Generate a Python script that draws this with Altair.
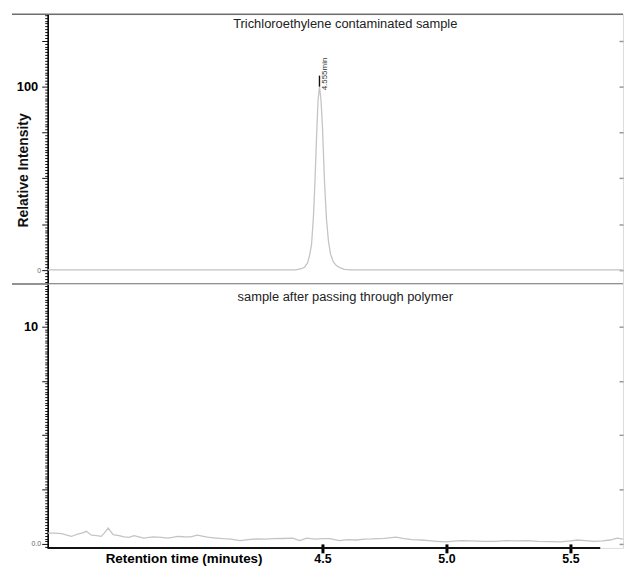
import altair as alt
import pandas as pd

# ---------------- data ----------------
top_title = ["Trichloroethylene contaminated sample"]
bottom_title = ["sample after passing through polymer"]
peak_label = ["4.555min"]
peak_time = [4.488]

top_time = [3.392, 3.60, 3.80, 4.00, 4.20, 4.35, 4.392, 4.416, 4.428, 4.44, 4.448,
            4.456, 4.464, 4.47, 4.476, 4.482, 4.488, 4.494, 4.50, 4.508, 4.516,
            4.524, 4.532, 4.544, 4.556, 4.568, 4.588, 4.616, 4.70, 4.90, 5.10,
            5.30, 5.50, 5.712]
top_val = [0.1, 0.1, 0.1, 0.1, 0.1, 0.1, 0.2, 0.8, 1.6, 4.0, 8.0,
           14.0, 30.0, 49.0, 72.0, 92.0, 100.0, 93.0, 78.0, 49.0, 28.0,
           16.0, 9.0, 4.5, 2.5, 1.5, 0.4, 0.1, 0.1, 0.1, 0.1,
           0.1, 0.1, 0.1]

bot_time = [3.392, 3.42, 3.448, 3.47, 3.488, 3.50, 3.516, 3.53, 3.548, 3.568,
            3.59, 3.608, 3.62, 3.636, 3.656, 3.68, 3.70, 3.72, 3.74, 3.76,
            3.78, 3.80, 3.82, 3.85, 3.876, 3.90, 3.916, 3.94, 3.968, 3.996,
            4.02, 4.036, 4.07, 4.10, 4.13, 4.168, 4.20, 4.236, 4.27, 4.30,
            4.34, 4.38, 4.408, 4.436, 4.47, 4.50, 4.53, 4.568, 4.60, 4.636,
            4.67, 4.70, 4.75, 4.796, 4.83, 4.86, 4.90, 4.928, 4.96, 4.996,
            5.03, 5.06, 5.10, 5.15, 5.196, 5.24, 5.28, 5.328, 5.37, 5.42,
            5.46, 5.50, 5.528, 5.56, 5.596, 5.63, 5.66, 5.688, 5.712]
bot_val = [0.50, 0.50, 0.47, 0.40, 0.35, 0.40, 0.46, 0.50, 0.58, 0.40,
           0.38, 0.35, 0.50, 0.73, 0.43, 0.38, 0.32, 0.30, 0.38, 0.33,
           0.27, 0.30, 0.32, 0.30, 0.27, 0.31, 0.35, 0.33, 0.32, 0.40,
           0.35, 0.31, 0.27, 0.24, 0.22, 0.15, 0.20, 0.23, 0.22, 0.24,
           0.25, 0.27, 0.15, 0.27, 0.22, 0.24, 0.24, 0.15, 0.20, 0.18,
           0.22, 0.23, 0.26, 0.31, 0.24, 0.20, 0.18, 0.15, 0.12, 0.09,
           0.13, 0.15, 0.14, 0.12, 0.12, 0.15, 0.14, 0.15, 0.12, 0.11,
           0.09, 0.14, 0.18, 0.15, 0.12, 0.14, 0.18, 0.27, 0.22]
assert len(bot_time) == len(bot_val)
assert len(top_time) == len(top_val)

x_ticks = [4.5, 5.0, 5.5]
top_major = [0, 25, 50, 75, 100, 125]
bot_major = [0, 2.5, 5, 7.5, 10]

# ---------------- layout ----------------
W = 580
H1 = 272
H2 = 266
X0 = 3.392
X1 = X0 + W / 250.0
AXIS_END = 5.62
FONT = "Liberation Sans"
LINE = "#c4c4c4"
FRAME = "#6e6e6e"

xs = alt.Scale(domain=[X0, X1], nice=False, zero=False)
top_ys = alt.Scale(domain=[-7.57, 139.46], nice=False, zero=False)
bot_ys = alt.Scale(domain=[-0.183, 11.963], nice=False, zero=False)

top_minor = [round(-6.25 + i * 1.5625, 4) for i in range(94)]
bot_minor = [round(-0.125 + i * 0.125, 4) for i in range(97)]


def left_axis(values, major_test, big, small, big_txt, small_txt, title=None, **kw):
    return alt.Axis(
        values=values,
        labelExpr=f"datum.value == {big} ? '{big_txt}' : (datum.value == {small} ? '{small_txt}' : '')",
        labelOverlap=False,
        labelFont=FONT,
        labelFontSize={"condition": {"test": f"datum.value == {big}", "value": 13}, "value": 7},
        labelFontWeight={"condition": {"test": f"datum.value == {big}", "value": "bold"}, "value": "normal"},
        labelColor={"condition": {"test": f"datum.value == {big}", "value": "#000000"}, "value": "#666666"},
        labelPadding={"condition": {"test": f"datum.value == {big}", "value": 4}, "value": 1},
        tickSize={"condition": {"test": major_test, "value": 6}, "value": 3},
        tickColor="#111111",
        tickWidth=1,
        domainColor="#000000",
        domainWidth=1.6,
        grid=False,
        title=title,
        **kw,
    )


def right_axis(values):
    return alt.Axis(orient="right", values=values, labels=False, domain=False,
                    tickSize=4, tickColor="#999999", tickWidth=1.5, offset=-4,
                    title=None, grid=False)


# ---------------- top panel ----------------
top_df = pd.DataFrame({"t": top_time, "v": top_val})

top_line = alt.Chart(top_df).mark_line(color=LINE, strokeWidth=1.3, clip=True).encode(
    x=alt.X("t:Q", scale=xs, axis=None),
    y=alt.Y("v:Q", scale=top_ys,
            axis=left_axis(top_minor, "datum.value % 25 == 0", 100, 0, "100", "0",
                           title="Relative Intensity", titleFont=FONT, titleFontSize=14,
                           titleFontWeight="bold", titleColor="#111111", titleX=-24,
                           titleY=157, titleAlign="center", titleBaseline="middle",
                           titleAngle=270)),
)
top_right = alt.Chart(top_df).mark_point(opacity=0).encode(
    x=alt.X("t:Q", scale=xs, axis=None),
    y=alt.Y("v:Q", scale=top_ys, axis=right_axis(top_major)),
)
frame_df = pd.DataFrame({"a": [0]})
top_rule = alt.Chart(frame_df).mark_rule(color=FRAME, strokeWidth=1.6).encode(
    x=alt.value(-36), x2=alt.value(W), y=alt.value(0))
mid_rule = alt.Chart(frame_df).mark_rule(color=FRAME, strokeWidth=1.6).encode(
    x=alt.value(-36), x2=alt.value(W), y=alt.value(H1))
top_text = alt.Chart(pd.DataFrame({"label": top_title})).mark_text(
    font=FONT, fontSize=13, color="#222222").encode(
    text="label:N", x=alt.value(300), y=alt.value(10))

peak_df = pd.DataFrame({"t": [4.509], "v": [98.0], "label": peak_label})
peak_text = alt.Chart(peak_df).mark_text(
    font=FONT, fontSize=8, color="#333333", angle=270, align="left", baseline="middle").encode(
    x=alt.X("t:Q", scale=xs, axis=None), y=alt.Y("v:Q", scale=top_ys, axis=None), text="label:N")
mark_df = pd.DataFrame({"t": peak_time, "v": [100.0], "v2": [106.0]})
peak_mark = alt.Chart(mark_df).mark_rule(color="#111111", strokeWidth=1.4).encode(
    x=alt.X("t:Q", scale=xs, axis=None), y=alt.Y("v:Q", scale=top_ys, axis=None), y2="v2:Q")

top = alt.layer(top_line, top_right, top_rule, mid_rule, top_text, peak_mark, peak_text).resolve_axis(
    y="independent").properties(width=W, height=H1)

# ---------------- bottom panel ----------------
bot_df = pd.DataFrame({"t": bot_time, "v": bot_val})

x_axis = alt.Axis(values=x_ticks, format=".1f", labelFont=FONT, labelFontSize=12.5,
                  labelFontWeight="bold", labelColor="#000000", labelPadding=0,
                  tickColor="#000000", tickWidth=3, tickSize=9, offset=-4, domain=False,
                  grid=False, labelFlush=False,
                  title="Retention time (minutes)", titleFont=FONT, titleFontSize=13.5,
                  titleFontWeight="bold", titleColor="#000000", titleX=137, titleY=15,
                  titleAlign="center", titleBaseline="middle")

bot_line = alt.Chart(bot_df).mark_line(color=LINE, strokeWidth=1.3, clip=True).encode(
    x=alt.X("t:Q", scale=xs, axis=x_axis),
    y=alt.Y("v:Q", scale=bot_ys,
            axis=left_axis(bot_minor, "datum.value % 2.5 == 0", 10, 0, "10", "0.0")),
)
bot_right = alt.Chart(bot_df).mark_point(opacity=0).encode(
    x=alt.X("t:Q", scale=xs, axis=x_axis),
    y=alt.Y("v:Q", scale=bot_ys, axis=right_axis(bot_major)),
)
axis_df = pd.DataFrame({"a": [X0], "b": [AXIS_END]})
x_rule = alt.Chart(axis_df).mark_rule(color="#111111", strokeWidth=2).encode(
    x=alt.X("a:Q", scale=xs, axis=x_axis), x2="b:Q", y=alt.value(H2))
bot_text = alt.Chart(pd.DataFrame({"label": bottom_title})).mark_text(
    font=FONT, fontSize=13, color="#222222").encode(
    text="label:N", x=alt.value(300), y=alt.value(13))

bottom = alt.layer(bot_line, bot_right, x_rule, bot_text).resolve_axis(
    y="independent").properties(width=W, height=H2)

chart = alt.vconcat(top, bottom, spacing=0, bounds="flush").properties(
    padding={"left": 2, "top": 0, "right": 0, "bottom": 0}
).configure_view(stroke=None).configure(background="white")

chart.save("out.html", embed_options={"renderer": "svg", "actions": False})
